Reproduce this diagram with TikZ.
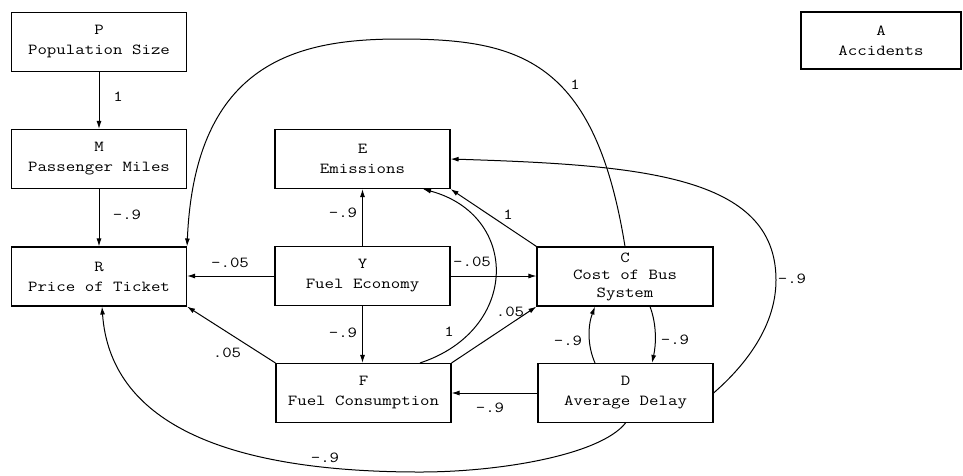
\documentclass[tikz,border=0pt]{standalone}
\usepackage{fontspec}
\setmonofont{Latin Modern Mono}[FakeStretch=1.2]
\usetikzlibrary{arrows.meta}
\begin{document}
\begin{tikzpicture}[x=1pt,y=-1pt,
  box/.style={draw, line width=1.1pt, minimum width=175pt, minimum height=59pt, inner sep=0pt, align=center, font=\ttfamily\fontsize{15.3}{20}\selectfont},
  lbl/.style={inner sep=0pt, font=\ttfamily\fontsize{15.3}{20}\selectfont},
  arr/.style={line width=1pt, -{Latex[length=8pt,width=5pt]}}]
\useasboundingbox (0,0) rectangle (963,475);
% boxes
\node[box] (P) at (99,42) {P\\Population Size};
\node[box] (M) at (99,159) {M\\Passenger Miles};
\node[box] (R) at (99,276.5) {R\\Price of Ticket};
\node[box] (E) at (362.5,159) {E\\Emissions};
\node[box] (Y) at (362.5,276) {Y\\Fuel Economy};
\node[box] (F) at (363.5,393) {F\\Fuel Consumption};
\node[box, minimum width=176pt, font=\ttfamily\fontsize{15.3}{17.5}\selectfont] (C) at (625,276.5) {C\\Cost of Bus\\System};
\node[box] (D) at (625.5,393) {D\\Average Delay};
\node[box, minimum width=160pt, minimum height=57pt] (A) at (881,40.5) {A\\Accidents};
% waypoints
\coordinate (ctop) at (400,39);
\coordinate (dright) at (776,280);
\coordinate (dbot) at (420,472);
% straight connectors
\draw[arr] (P) -- (M);
\draw[arr] (M) -- (R);
\draw[arr] (Y) -- (E);
\draw[arr] (Y.south) -- (Y.south |- F.north);
\draw[arr] (Y.west) -- (Y.west -| R.east);
\draw[arr] (Y.east) -- (Y.east -| C.west);
\draw[arr] (F.north west) -- (R.south east);
\draw[arr] (F.north east) -- (C.south west);
\draw[arr] (C.north west) -- (E.south east);
\draw[arr] (D.west) -- (D.west -| F.east);
% curved connectors
\draw[arr] ([xshift=56.5pt]F.north) .. controls (520,330) and (520,215) .. ([xshift=60.5pt]E.south);
\draw[arr] (C.north) .. controls (595,60) and (520,39) .. (ctop) .. controls (300,39) and (195,60) .. (R.north east);
\draw[arr] (D.east) .. controls (740,370) and (776,330) .. (dright) .. controls (776,175) and (640,165) .. (E.east);
\draw[arr] (D.south) .. controls (600,455) and (500,472) .. (dbot) .. controls (220,472) and (110,420) .. ([xshift=3pt]R.south);
\draw[arr] ([xshift=25pt]C.south) .. controls (657,325) and (656,345) .. ([xshift=26.5pt]D.north);
\draw[arr] ([xshift=-30.5pt]D.north) .. controls (587,345) and (588,325) .. ([xshift=-30pt]C.south);
% labels
\node[lbl] (lPM) at (118,97) {1};
\node[lbl] (lMR) at (127,215) {-.9};
\node[lbl] (lYR) at (230,263) {-.05};
\node[lbl] (lFR) at (227,353) {.05};
\node[lbl] (lYE) at (343,213) {-.9};
\node[lbl] (lYF) at (343,333) {-.9};
\node[lbl] (lYC) at (472,262) {-.05};
\node[lbl] (lFC) at (510,312) {.05};
\node[lbl] (lFE) at (449,332) {1};
\node[lbl] (lCE) at (508,215) {1};
\node[lbl] (lCR) at (575,85) {1};
\node[lbl] (lDE) at (792,279) {-.9};
\node[lbl] (lCD) at (675,340) {-.9};
\node[lbl] (lDC) at (568,341) {-.9};
\node[lbl] (lDF) at (490,408) {-.9};
\node[lbl] (lDR) at (325,458) {-.9};
\end{tikzpicture}
\end{document}
